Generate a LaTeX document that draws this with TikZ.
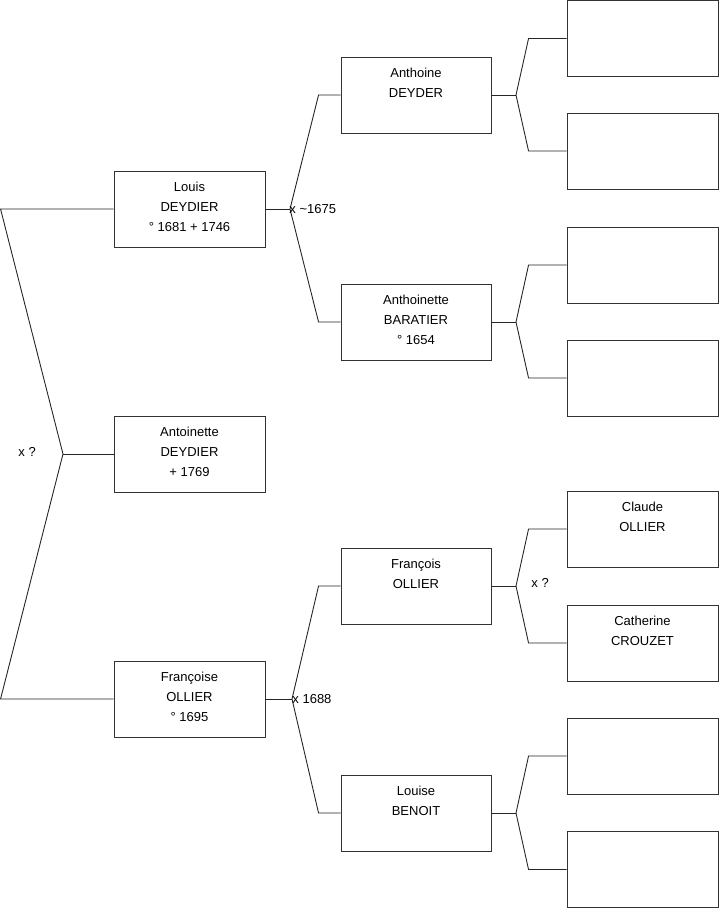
\documentclass[tikz,border=0pt]{standalone}
\usepackage{fontspec}
\setmainfont{Liberation Sans}
\usepackage{tikz}

\newcommand{\who}[2]{\parbox[c][76pt][t]{#1pt}{\centering\fontsize{13}{20}\selectfont\vspace*{11.5pt}\leavevmode#2}}

\begin{document}
\begin{tikzpicture}[x=1pt,y=-1pt,
    line width=0.9pt, draw=black!85,
    person/.style={draw=black!80, inner sep=0pt, minimum height=76pt},
    wed/.style={font=\fontsize{13}{15}\selectfont, inner sep=0pt}]
    \useasboundingbox (0,0) rectangle (719,908);
    \node[person] (louis) at (189.5,209) {\who{151}{Louis\\DEYDIER\\° 1681 + 1746}};
    \node[person] (antoinette) at (189.5,454) {\who{151}{Antoinette\\DEYDIER\\+ 1769}};
    \node[person] (francoise) at (189.5,699) {\who{151}{Françoise\\OLLIER\\° 1695}};
    \node[person] (anthoine) at (416,95) {\who{150}{Anthoine\\DEYDER}};
    \node[person] (anthoinette) at (416,322) {\who{150}{Anthoinette\\BARATIER\\° 1654}};
    \node[person] (francois) at (416,586) {\who{150}{François\\OLLIER}};
    \node[person] (louise) at (416,813) {\who{150}{Louise\\BENOIT}};
    \node[person] (anthoine1) at (642.5,38.5) {\who{151}{}};
    \node[person] (anthoine2) at (642.5,151) {\who{151}{}};
    \node[person] (anthoinette1) at (642.5,265) {\who{151}{}};
    \node[person] (anthoinette2) at (642.5,378) {\who{151}{}};
    \node[person] (claude) at (642.5,529) {\who{151}{Claude\\OLLIER}};
    \node[person] (catherine) at (642.5,643) {\who{151}{Catherine\\CROUZET}};
    \node[person] (louise1) at (642.5,756) {\who{151}{}};
    \node[person] (louise2) at (642.5,869.5) {\who{151}{}};
    \coordinate (f0) at (63,454);
    \coordinate (f1) at (290,209);
    \coordinate (f2) at (292,699);
    \coordinate (g1) at (516,95);
    \coordinate (g2) at (516,322);
    \coordinate (g3) at (516,586);
    \coordinate (g4) at (516,813);
    \draw (louis.west) -- ++(-113,0) -- (f0) -- ([xshift=-113]francoise.west) -- (francoise.west);
    \draw (f0) -- (antoinette.west);
    \draw (louis.east) -- (f1);
    \draw (anthoine.west) -- ++(-22,0) -- (f1) -- ([xshift=-22]anthoinette.west) -- (anthoinette.west);
    \draw (francoise.east) -- (f2);
    \draw (francois.west) -- ++(-22,0) -- (f2) -- ([xshift=-22]louise.west) -- (louise.west);
    \draw (anthoine.east) -- (g1);
    \draw (anthoine1.west) -- ++(-38,0) -- (g1) -- ([xshift=-38]anthoine2.west) -- (anthoine2.west);
    \draw (anthoinette.east) -- (g2);
    \draw (anthoinette1.west) -- ++(-38,0) -- (g2) -- ([xshift=-38]anthoinette2.west) -- (anthoinette2.west);
    \draw (francois.east) -- (g3);
    \draw (claude.west) -- ++(-38,0) -- (g3) -- ([xshift=-38]catherine.west) -- (catherine.west);
    \draw (louise.east) -- (g4);
    \draw (louise1.west) -- ++(-38,0) -- (g4) -- ([xshift=-38]louise2.west) -- (louise2.west);
    \node[wed, anchor=west] (x0) at (18,452) {x ?};
    \node[wed, anchor=west] (x1) at ([xshift=-1]f1) {x \textasciitilde 1675};
    \node[wed, anchor=west] (x2) at (f2) {x 1688};
    \node[wed, anchor=west] (x3) at (531,583) {x ?};
\end{tikzpicture}
\end{document}
